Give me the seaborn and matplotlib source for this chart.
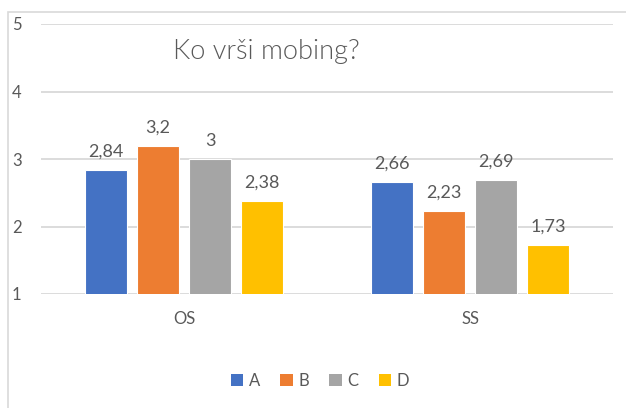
import matplotlib
matplotlib.use("Agg")
import matplotlib.pyplot as plt
from matplotlib.patches import Rectangle, Patch
import seaborn as sns
import pandas as pd

# Data
groups = ["OS", "SS"]
series = ["A", "B", "C", "D"]
values_os = [2.84, 3.2, 3.0, 2.38]
values_ss = [2.66, 2.23, 2.69, 1.73]
y_ticks = [1, 2, 3, 4, 5]
title = "Ko vrši mobing?"

colors = ["#4472C4", "#ED7D31", "#A5A5A5", "#FFC000"]
text_color = "#595959"
grid_color = "#D9D9D9"

rows = []
for g, vals in zip(groups, [values_os, values_ss]):
    for s, v in zip(series, vals):
        rows.append({"group": g, "series": s, "value": v})
df = pd.DataFrame(rows)

sns.set_style("white")
plt.rcParams["font.family"] = ["Lato", "DejaVu Sans"]

W, H = 626, 408
fig = plt.figure(figsize=(W / 100, H / 100), dpi=100)

# chart border
fig.patches.append(Rectangle((8 / W, -0.2), 2.0, 1.2 - 12 / H, transform=fig.transFigure,
                             fill=False, edgecolor=grid_color, linewidth=1.2, zorder=0))

left, right, top, bottom = 41, 613, 24, 294
ax = fig.add_axes([left / W, 1 - bottom / H, (right - left) / W, (bottom - top) / H])

sns.barplot(data=df, x="group", y="value", hue="series", palette=colors,
            saturation=1, width=0.727, gap=0.21, ax=ax, edgecolor="white",
            linewidth=0.8, legend=False, zorder=3)

ax.set_ylim(1, 5)
ax.set_xlim(-0.5, 1.5)
ax.set_yticks(y_ticks)
ax.set_yticklabels([str(t) for t in y_ticks])
ax.yaxis.grid(True, color=grid_color, linewidth=1.3, zorder=0)
ax.set_axisbelow(True)
for sp in ax.spines.values():
    sp.set_visible(False)
ax.set_xlabel("")
ax.set_ylabel("")
ax.tick_params(axis="y", length=0, pad=14, labelsize=12, labelcolor=text_color)
ax.tick_params(axis="x", length=0, pad=12, labelsize=12, labelcolor=text_color)

# value labels
for cont in ax.containers:
    for bar in cont:
        v = bar.get_height()
        lbl = f"{v:g}".replace(".", ",")
        ax.annotate(lbl, (bar.get_x() + bar.get_width() / 2, v),
                    xytext=(0, 9.5), textcoords="offset points",
                    ha="center", va="baseline", fontsize=13, color=text_color)

fig.text(266 / W, 1 - 52 / H, title, ha="center", va="center",
         fontsize=19.5, fontweight=300, color=text_color)

handles = [Patch(facecolor=c, edgecolor="none") for c in colors]
fig.legend(handles, series, loc="center", bbox_to_anchor=(320 / W, 1 - 381 / H),
           ncol=4, frameon=False, fontsize=12, labelcolor=text_color,
           handlelength=0.75, handleheight=0.75, handletextpad=0.35,
           columnspacing=1.2)

fig.savefig("out.png", dpi=100)
